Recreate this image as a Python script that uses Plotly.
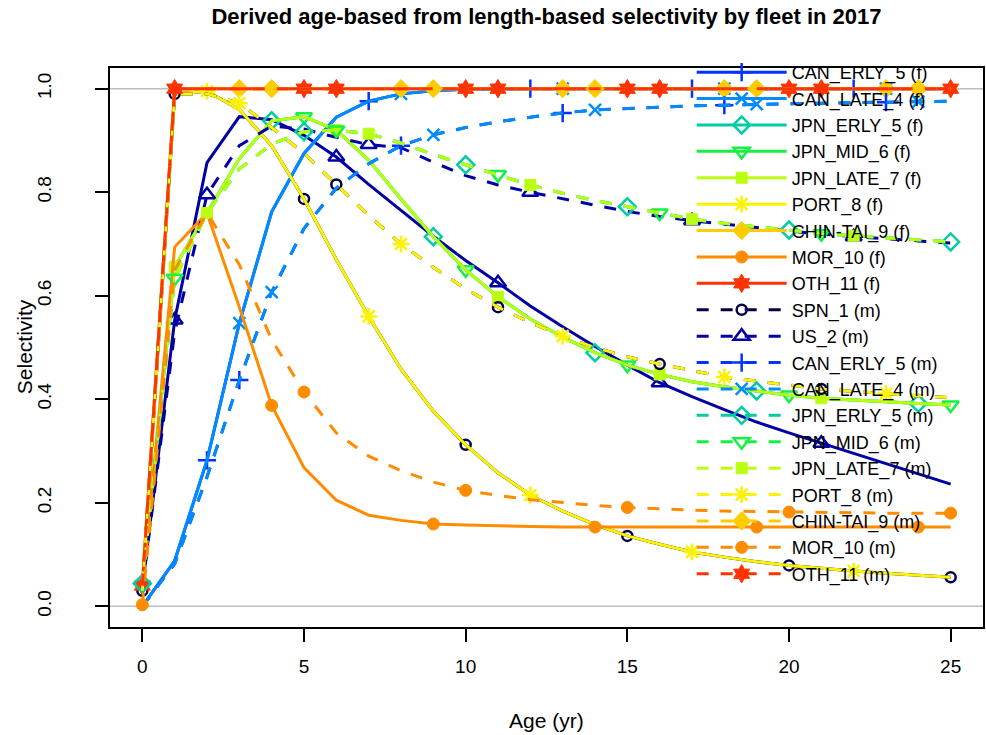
import plotly.graph_objects as go

# ---------------- data ----------------
ages = list(range(26))

fleet_names = ["SPN_1", "US_2", "CAN_ERLY_5", "CAN_LATE_4", "JPN_ERLY_5", "JPN_MID_6",
               "JPN_LATE_7", "PORT_8", "CHIN-TAI_9", "MOR_10", "OTH_11"]
fleet_colors = ["#000043", "#0000A4", "#0033FF", "#008CFF", "#01CCA4", "#13F243",
                "#BAFF12", "#FCF203", "#FFCC00", "#FF8C00", "#FF3300"]

# females (f)
port8_f = [0.03, 0.99, 0.995, 0.96, 0.89, 0.787, 0.67, 0.56, 0.458, 0.377, 0.312, 0.258, 0.215,
           0.184, 0.158, 0.136, 0.12, 0.105, 0.095, 0.086, 0.079, 0.073, 0.068, 0.064, 0.06, 0.056]
spn1_f = list(port8_f)
us2_f = [0.035, 0.553, 0.857, 0.946, 0.94, 0.91, 0.868, 0.815, 0.765, 0.715, 0.668, 0.625, 0.58,
         0.54, 0.502, 0.466, 0.432, 0.405, 0.38, 0.356, 0.335, 0.315, 0.295, 0.275, 0.255, 0.236]
cane_f = [0.0, 0.088, 0.282, 0.547, 0.762, 0.875, 0.945, 0.976, 0.99, 0.996, 0.999, 1.0, 1.0,
          1.0, 1.0, 1.0, 1.0, 1.0, 1.0, 1.0, 1.0, 1.0, 1.0, 1.0, 1.0, 1.0]
canl_f = list(cane_f)
jpnl_f = [0.04, 0.656, 0.76, 0.865, 0.938, 0.946, 0.92, 0.862, 0.787, 0.714, 0.65, 0.598, 0.555,
          0.52, 0.49, 0.466, 0.448, 0.434, 0.424, 0.416, 0.408, 0.402, 0.398, 0.395, 0.392, 0.389]
jpne_f = list(jpnl_f)
jpnm_f = list(jpnl_f)
chin9_f = [0.04, 1.0, 1.0, 1.0, 1.0, 1.0, 1.0, 1.0, 1.0, 1.0, 1.0, 1.0, 1.0,
           1.0, 1.0, 1.0, 1.0, 1.0, 1.0, 1.0, 1.0, 1.0, 1.0, 1.0, 1.0, 1.0]
oth11_f = list(chin9_f)
mor10_f = [0.03, 0.694, 0.76, 0.578, 0.388, 0.268, 0.205, 0.176, 0.166, 0.159, 0.157, 0.155, 0.154,
           0.153, 0.153, 0.153, 0.153, 0.153, 0.153, 0.153, 0.153, 0.153, 0.153, 0.153, 0.153, 0.153]

# males (m)
port8_m = [0.03, 0.99, 0.99, 0.972, 0.925, 0.875, 0.815, 0.755, 0.70, 0.655, 0.613, 0.578, 0.548,
           0.522, 0.50, 0.482, 0.468, 0.455, 0.443, 0.435, 0.427, 0.42, 0.415, 0.411, 0.407, 0.403]
spn1_m = list(port8_m)
us2_m = [0.035, 0.53, 0.795, 0.89, 0.928, 0.922, 0.906, 0.892, 0.886, 0.858, 0.832, 0.814, 0.80,
         0.787, 0.775, 0.763, 0.753, 0.745, 0.738, 0.731, 0.725, 0.719, 0.714, 0.71, 0.706, 0.702]
cane_m = [0.0, 0.082, 0.25, 0.437, 0.607, 0.73, 0.808, 0.855, 0.89, 0.911, 0.925, 0.936, 0.945,
          0.953, 0.959, 0.962, 0.965, 0.967, 0.968, 0.97, 0.971, 0.972, 0.973, 0.974, 0.975, 0.976]
canl_m = list(cane_m)
jpnl_m = [0.044, 0.634, 0.76, 0.845, 0.893, 0.917, 0.92, 0.913, 0.895, 0.873, 0.853, 0.834, 0.814,
          0.798, 0.784, 0.772, 0.76, 0.748, 0.74, 0.733, 0.727, 0.72, 0.716, 0.712, 0.708, 0.704]
jpne_m = list(jpnl_m)
jpnm_m = list(jpnl_m)
chin9_m = list(chin9_f)
oth11_m = list(chin9_f)
mor10_m = [0.003, 0.65, 0.76, 0.66, 0.515, 0.414, 0.335, 0.29, 0.262, 0.24, 0.224, 0.214, 0.206,
           0.2, 0.195, 0.191, 0.188, 0.186, 0.184, 0.183, 0.182, 0.181, 0.181, 0.18, 0.18, 0.18]

sel_f = [spn1_f, us2_f, cane_f, canl_f, jpne_f, jpnm_f, jpnl_f, port8_f, chin9_f, mor10_f, oth11_f]
sel_m = [spn1_m, us2_m, cane_m, canl_m, jpne_m, jpnm_m, jpnl_m, port8_m, chin9_m, mor10_m, oth11_m]

x_ticks = [0, 5, 10, 15, 20, 25]
y_ticks = [0.0, 0.2, 0.4, 0.6, 0.8, 1.0]
y_ticktext = ["0.0", "0.2", "0.4", "0.6", "0.8", "1.0"]

# ---------------- styles ----------------
symbols = [("circle-open", 10, False), ("triangle-up-open", 14, False), ("cross-thin-open", 13, False),
           ("x-thin-open", 12, False), ("diamond-open", 13, False), ("triangle-down-open", 14, False),
           ("square", 11, True), ("asterisk-open", 14, False), ("diamond", 14, True),
           ("circle", 12, True), ("hexagram", 14, True)]
FONT = "Liberation Sans, Arial, sans-serif"
LW = 3
DASH = "12px,12px"


def marker_style(col, spec):
    sym, size, filled = spec
    if filled:
        return dict(symbol=sym, size=size, color=col, line=dict(color=col, width=1))
    return dict(symbol=sym, size=size, color=col, line=dict(color=col, width=2.5))


series = []
for sex, sels, dash in (("f", sel_f, "solid"), ("m", sel_m, DASH)):
    for i, name in enumerate(fleet_names):
        series.append((f"{name} ({sex})", sels[i], fleet_colors[i], symbols[i], dash))

fig = go.Figure()

# legend entries
for k, (label, vals, col, spec, dash) in enumerate(series):
    fig.add_trace(go.Scatter(
        x=[None], y=[None], mode="lines+markers", name=label,
        line=dict(color=col, width=LW, dash=dash), marker=marker_style(col, spec),
        showlegend=(k >= 2), hoverinfo="skip"))

# data lines + sparse point markers
for k, (label, vals, col, spec, dash) in enumerate(series):
    fig.add_trace(go.Scatter(
        x=ages, y=vals, mode="lines", name=label,
        line=dict(color=col, width=LW, dash=dash), showlegend=False, hoverinfo="skip"))
    off = k % 5
    fig.add_trace(go.Scatter(
        x=ages[off::5], y=vals[off::5], mode="markers", name=label,
        marker=marker_style(col, spec), showlegend=False, hoverinfo="skip"))

for yv in (0, 1):
    fig.add_shape(type="line", xref="paper", x0=0, x1=1, yref="y", y0=yv, y1=yv,
                  line=dict(color="#BEBEBE", width=1.5), layer="below")

fig.update_layout(
    width=986, height=735,
    margin=dict(l=110, r=1, t=68, b=108),
    paper_bgcolor="white", plot_bgcolor="white",
    font=dict(family=FONT, color="black"),
    title=dict(text="<b>Derived age-based from length-based selectivity by fleet in 2017</b>",
               x=0.5, xref="paper", y=1 - 16 / 735, yanchor="middle",
               font=dict(size=22, family=FONT, color="black")),
    xaxis=dict(range=[-1, 26], tickvals=x_ticks, ticks="outside", ticklen=13, tickwidth=1.5,
               tickcolor="black", showline=True, linecolor="black", linewidth=1.5, mirror=True,
               showgrid=False, zeroline=False, tickfont=dict(size=19), ticklabelstandoff=8),
    yaxis=dict(range=[-0.04, 1.04], tickvals=y_ticks, ticktext=y_ticktext, tickangle=-90,
               ticks="outside", ticklen=13, tickwidth=1.5, tickcolor="black", showline=True,
               linecolor="black", linewidth=1.5, mirror=True, showgrid=False, zeroline=False,
               tickfont=dict(size=19), ticklabelstandoff=37),
    legend=dict(x=(693 - 110) / 875, y=(627 - 56) / 557, xanchor="left", yanchor="top",
                bgcolor="rgba(0,0,0,0)", borderwidth=0, itemwidth=90, tracegroupgap=0,
                maxheight=735, font=dict(size=18, family=FONT, color="black")),
    annotations=[
        dict(text="Age (yr)", xref="paper", yref="paper", x=0.5, y=(627 - 720) / 557,
             xanchor="center", yanchor="middle", showarrow=False, font=dict(size=21)),
        dict(text="Selectivity", xref="paper", yref="paper", x=(25 - 110) / 875,
             y=(627 - 348) / 557, xanchor="center", yanchor="middle", textangle=-90,
             showarrow=False, font=dict(size=21)),
    ],
)

fig.write_html("out.html")
